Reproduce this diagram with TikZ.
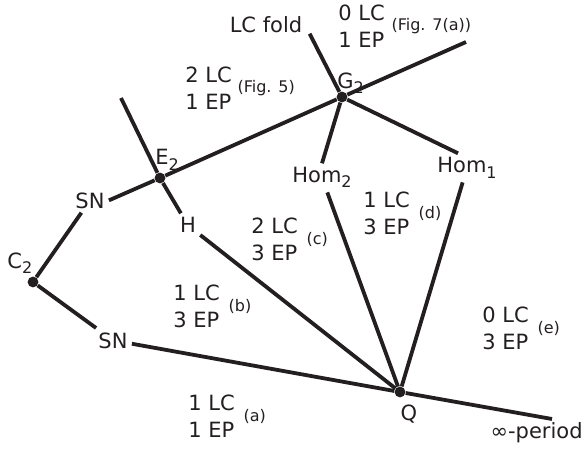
\documentclass[tikz,border=0pt]{standalone}
\usepackage{fontspec}
\setmainfont{DejaVu Sans}
\usetikzlibrary{positioning,calc}
\definecolor{InkBlack}{HTML}{231F20}
\newcommand\lowidx[1]{\raisebox{-2.5pt}{\fontsize{8}{9.6}\selectfont #1}}

\begin{document}
\begin{tikzpicture}[x=0.5pt,y=-0.5pt,color=InkBlack,
  lbl/.style={font=\fontsize{10.5}{13.5}\selectfont,inner sep=2pt},
  reg/.style={font=\fontsize{10.5}{13.5}\selectfont,align=left,inner sep=0pt,anchor=north west},
  tag/.style={font=\fontsize{8}{9.6}\selectfont,inner sep=0pt,anchor=west},
  dot/.style={circle,fill=InkBlack,inner sep=0pt,minimum size=5.4pt},
  br/.style={line width=1.9pt}]
  \useasboundingbox (0,0) rectangle (584,449);
  % singular points
  \node[dot] (g2) at (342,97) {};
  \node[dot] (e2) at (160,178) {};
  \node[dot] (c2) at (33,282) {};
  \node[dot] (q) at (400,392) {};
  \coordinate (gend) at (466,42);
  \coordinate (eend) at (121,98);
  \coordinate (qend) at (552,419);
  \node[lbl,anchor=base west,inner sep=0pt] (g2l) at ($(g2)+(-5,-8)$) {G\lowidx{2}};
  \node[lbl,anchor=base west,inner sep=0pt] (e2l) at ($(e2)+(-5,-13)$) {E\lowidx{2}};
  \node[lbl,anchor=base west,inner sep=0pt] (c2l) at ($(c2)+(-26,-14)$) {C\lowidx{2}};
  \node[lbl,anchor=base,inner sep=0pt] (ql) at ($(q)+(9,28)$) {Q};
  % bifurcation curves
  \node[lbl,anchor=base] (lcfold) at (266,33) {LC fold};
  \node[lbl,anchor=base] (snup) at (90,208) {SN};
  \node[lbl,anchor=base] (snlo) at (113,348) {SN};
  \node[lbl,anchor=base] (h) at (188,233) {H};
  \node[lbl,anchor=base] (homtwo) at (322,183) {Hom\lowidx{2}};
  \node[lbl,anchor=base] (homone) at (467,173) {Hom\lowidx{1}};
  \node[lbl,anchor=base east,inner sep=0pt] (infper) at (583,438) {∞-period};
  % regions
  \node[reg] (rseven) at (338,5) {0 LC\\1 EP};
  \node[tag] (tseven) at ($(rseven.north east)+(6,21)$) {(Fig. 7(a))};
  \node[reg] (rfive) at (185,67) {2 LC\\1 EP};
  \node[tag] (tfive) at ($(rfive.north east)+(5,21)$) {(Fig. 5)};
  \node[reg] (ra) at (188,395) {1 LC\\1 EP};
  \node[tag] (ta) at ($(ra.north east)+(8,21)$) {(a)};
  \node[reg] (rb) at (173,285) {1 LC\\3 EP};
  \node[tag] (tb) at ($(rb.north east)+(8,21)$) {(b)};
  \node[reg] (rc) at (251,218) {2 LC\\3 EP};
  \node[tag] (tc) at ($(rc.north east)+(8,21)$) {(c)};
  \node[reg] (rd) at (363,192) {1 LC\\3 EP};
  \node[tag] (td) at ($(rd.north east)+(8,21)$) {(d)};
  \node[reg] (re) at (482,307) {0 LC\\3 EP};
  \node[tag] (te) at ($(re.north east)+(8,21)$) {(e)};
  % connectors
  \draw[br] (snup.east) -- (e2) -- (g2) -- (gend);
  \draw[br] (eend) -- (e2) -- (h);
  \draw[br] (c2) -- (snup);
  \draw[br] (c2) -- (snlo);
  \draw[br] (snlo) -- (q) -- (qend);
  \draw[br] (h) -- (q);
  \draw[br] (homtwo) -- (q);
  \draw[br] (homone) -- (q);
  \draw[br] ($(lcfold.south east)+(3,-4)$) -- (g2);
  \draw[br] (g2) -- (homtwo.north);
  \draw[br] (g2) -- ([xshift=-4.5pt]homone.north);
\end{tikzpicture}
\end{document}
